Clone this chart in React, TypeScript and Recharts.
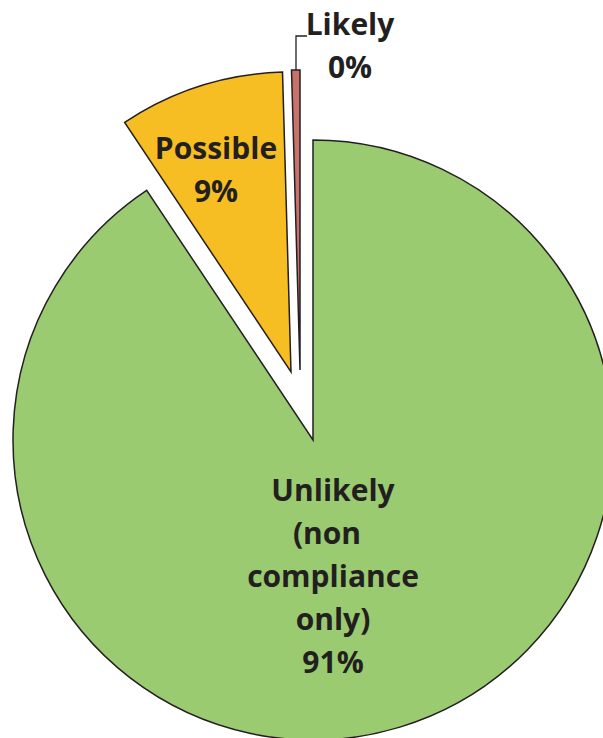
import { PieChart, Pie, Cell } from 'recharts';

const categories = ['Unlikely (non compliance only)', 'Possible', 'Likely'];
const shares = [90.6, 8.9, 0.45];
const labelLines = [['Unlikely', '(non', 'compliance', 'only)'], ['Possible'], ['Likely']];
const colors = ['#9bcb70', '#f6be22', '#c9716b'];

const data = categories.map((name, i) => ({ name, value: shares[i] }));

// where each slice's tip sits (Excel explodes the small slices)
const slicePos = [
  { cx: 313, cy: 440 },
  { cx: 291, cy: 372 },
  { cx: 300, cy: 370 },
];

// label anchor relative to the slice tip: first baseline
const labelPos = [
  { dx: 20, dy: 61 },
  { dx: -75, dy: -213 },
  { dx: 50, dy: -335 },
];

const LINE_GAP = 43;
const INK = '#231f20';

const makeLabel = (target: number) => (props: any) => {
  if (props.index !== target) return null;
  const { cx, cy, percent } = props;
  const pos = labelPos[target];
  const lines = [...labelLines[target], `${Math.round(percent * 100)}%`];
  const x = cx + pos.dx;
  const y0 = cy + pos.dy;
  return (
    <g>
      {target === 2 && (
        <polyline
          points={`${cx - 4},${cy - 300} ${cx - 4},${cy - 334} ${cx + 7},${cy - 334}`}
          fill="none"
          stroke={INK}
          strokeWidth={1.3}
        />
      )}
      <text
        x={x}
        y={y0}
        textAnchor="middle"
        fill={INK}
        style={{ fontFamily: '"Open Sans", sans-serif', fontWeight: 700, fontSize: 30 }}
      >
        {lines.map((line, i) => (
          // Excel keeps a trailing space on "(non", nudging it left
          <tspan key={i} x={line === '(non' ? x - 6 : x} y={y0 + i * LINE_GAP}>
            {line}
          </tspan>
        ))}
      </text>
    </g>
  );
};

export default function App() {
  return (
    <div style={{ position: 'absolute', left: 0, top: 0, width: 603, height: 738, background: '#fff' }}>
      <PieChart width={603} height={738} margin={{ top: 0, right: 0, bottom: 0, left: 0 }}>
        {slicePos.map((p, target) => (
          <Pie
            key={target}
            data={data}
            dataKey="value"
            nameKey="name"
            cx={p.cx}
            cy={p.cy}
            outerRadius={300}
            startAngle={90}
            endAngle={-270}
            label={makeLabel(target)}
            labelLine={false}
            isAnimationActive={false}
          >
            {data.map((d, i) => (
              <Cell
                key={d.name}
                fill={i === target ? colors[i] : 'none'}
                stroke={i === target ? INK : 'none'}
                strokeWidth={1.5}
              />
            ))}
          </Pie>
        ))}
      </PieChart>
    </div>
  );
}
